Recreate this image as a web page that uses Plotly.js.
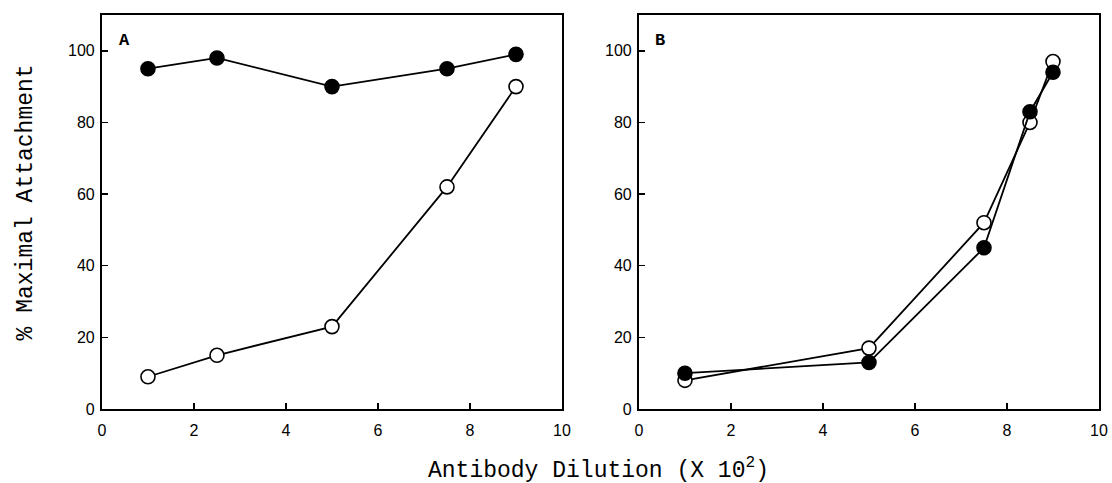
<!DOCTYPE html>
<html>
<head>
<meta charset="utf-8">
<script src="https://cdn.plot.ly/plotly-3.0.1.min.js"></script>
<style>html,body{margin:0;padding:0;background:#fff;}#chart{width:1112px;height:483px;}</style>
</head>
<body>
<div id="chart"></div>
<script>
// Panel A
const xA = [1, 2.5, 5, 7.5, 9];
const filledA = [95, 98, 90, 95, 99];
const openA = [9, 15, 23, 62, 90];
// Panel B
const xB = [1, 5, 7.5, 8.5, 9];
const filledB = [10, 13, 45, 83, 94];
const openB = [8, 17, 52, 80, 97];

const xTicks = [0, 2, 4, 6, 8, 10];
const yTicks = [0, 20, 40, 60, 80, 100];

function trace(x, y, filled, xa, ya) {
  return {
    x: x, y: y, xaxis: xa, yaxis: ya, type: 'scatter', mode: 'lines+markers',
    line: {color: '#000', width: 1.8},
    marker: {size: 14, symbol: 'circle', color: filled ? '#000' : '#fff', line: {color: '#000', width: 1.6}},
    showlegend: false, hoverinfo: 'skip'
  };
}

const data = [
  trace(xA, openA, false, 'x', 'y'),
  trace(xA, filledA, true, 'x', 'y'),
  trace(xB, openB, false, 'x2', 'y2'),
  trace(xB, filledB, true, 'x2', 'y2')
];

const tickFont = {family: 'Liberation Sans, Arial, sans-serif', size: 16, color: '#000'};
function xaxis(domain, anchor) {
  return {domain: domain, anchor: anchor, range: [0, 10], tickvals: xTicks, ticks: 'inside', ticklen: 6,
    tickwidth: 1.5, tickcolor: '#000', showline: true, linecolor: '#000', linewidth: 2, mirror: true,
    showgrid: false, zeroline: false, tickfont: tickFont, ticklabelstandoff: 6};
}
function yaxis(anchor) {
  return {domain: [0.1532, 0.969], anchor: anchor, range: [0, 110], tickvals: yTicks, ticks: 'inside', ticklen: 6,
    tickwidth: 1.5, tickcolor: '#000', showline: true, linecolor: '#000', linewidth: 2, mirror: true,
    showgrid: false, zeroline: false, tickfont: tickFont, ticklabelstandoff: 2};
}

const monoFont = {family: 'Liberation Mono, Courier New, monospace', size: 23, color: '#000'};

const layout = {
  width: 1112, height: 483,
  margin: {l: 0, r: 0, t: 0, b: 0},
  paper_bgcolor: '#fff', plot_bgcolor: '#fff',
  xaxis: xaxis([0.0917, 0.5054], 'y'),
  yaxis: yaxis('x'),
  xaxis2: xaxis([0.5746, 0.9883], 'y2'),
  yaxis2: yaxis('x2'),
  annotations: [
    {text: '<b>A</b>', xref: 'x', yref: 'y', x: 0.5, y: 103, showarrow: false, font: {family: 'Liberation Mono, monospace', size: 17, color: '#000'}},
    {text: '<b>B</b>', xref: 'x2', yref: 'y2', x: 0.45, y: 103, showarrow: false, font: {family: 'Liberation Mono, monospace', size: 17, color: '#000'}},
    {text: 'Antibody Dilution (X 10<sup>2</sup>)', xref: 'paper', yref: 'paper', x: 0.538, y: 0.03, xanchor: 'center', yanchor: 'middle', showarrow: false, font: monoFont},
    {text: '% Maximal Attachment', xref: 'paper', yref: 'paper', x: 0.023, y: 0.58, xanchor: 'center', yanchor: 'middle', textangle: -90, showarrow: false, font: monoFont}
  ]
};

Plotly.newPlot('chart', data, layout, {staticPlot: true, displayModeBar: false});
</script>
</body>
</html>
